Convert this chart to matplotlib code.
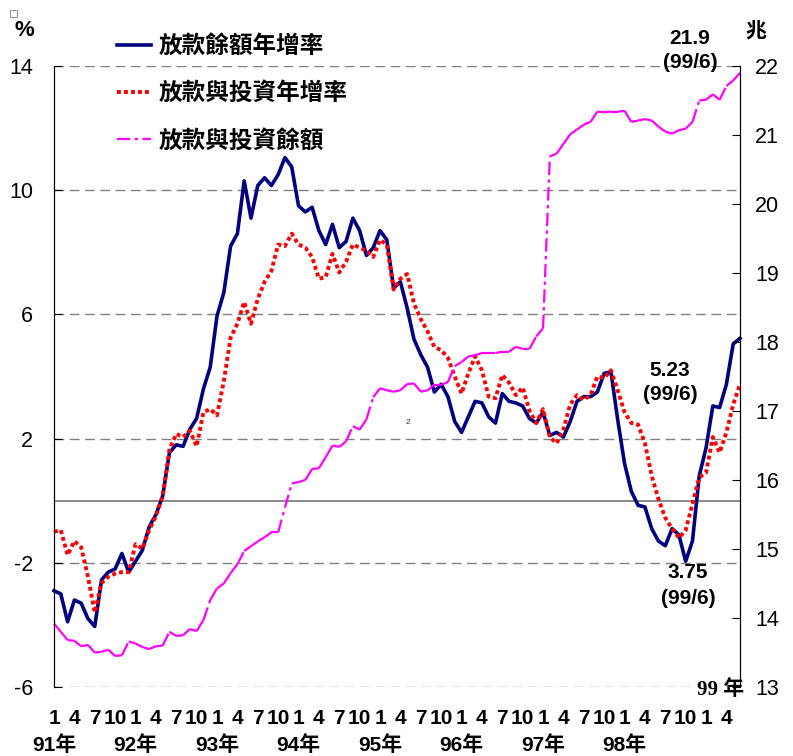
import matplotlib.pyplot as plt
from matplotlib.lines import Line2D
from matplotlib.patches import Rectangle
from matplotlib.font_manager import FontProperties

plt.rcParams['font.family'] = ['Liberation Sans', 'Noto Sans CJK TC']

# 資料: 91年1月 ~ 99年6月 (月資料)
years = ['91年', '92年', '93年', '94年', '95年', '96年', '97年', '98年']
month_labels = ['1', '4', '7', '10'] * 8 + ['1', '4']

# 放款餘額年增率 (%)
loan_growth = [
    -2.9, -3.0, -3.9, -3.2, -3.3, -3.8, -4.05, -2.55, -2.3, -2.2, -1.7, -2.3,
    -1.95, -1.6, -0.85, -0.45, 0.15, 1.55, 1.8, 1.75, 2.3, 2.65, 3.6, 4.3,
    5.95, 6.7, 8.2, 8.6, 10.3, 9.1, 10.15, 10.4, 10.15, 10.5, 11.05, 10.75,
    9.5, 9.3, 9.45, 8.7, 8.25, 8.9, 8.15, 8.35, 9.1, 8.7, 7.9, 8.15,
    8.7, 8.4, 6.85, 7.05, 6.2, 5.2, 4.7, 4.3, 3.5, 3.75, 3.35, 2.55,
    2.2, 2.7, 3.2, 3.15, 2.7, 2.5, 3.45, 3.2, 3.15, 3.05, 2.65, 2.5,
    2.85, 2.1, 2.2, 2.05, 2.55, 3.2, 3.35, 3.35, 3.5, 4.1, 4.15, 2.6,
    1.2, 0.3, -0.15, -0.2, -0.9, -1.3, -1.45, -0.9, -1.1, -1.95, -1.3, 0.8,
    1.7, 3.05, 3.0, 3.75, 5.05, 5.23,
]

# 放款與投資年增率 (%)
loan_inv_growth = [
    -1.0, -0.95, -1.75, -1.3, -1.5, -2.45, -3.6, -2.65, -2.45, -2.35, -2.3, -2.3,
    -1.4, -1.55, -0.95, -0.5, 0.15, 1.65, 2.15, 2.05, 2.25, 1.75, 2.85, 2.95,
    2.75, 3.85, 5.25, 5.7, 6.4, 5.7, 6.5, 7.05, 7.4, 8.25, 8.2, 8.6,
    8.25, 8.15, 7.85, 7.15, 7.2, 7.95, 7.35, 7.7, 8.25, 8.15, 8.05, 7.85,
    8.4, 8.25, 6.8, 7.15, 7.3, 6.35, 5.85, 5.45, 4.95, 4.85, 4.6, 4.0,
    3.45, 4.1, 4.65, 4.2, 3.35, 3.3, 4.05, 3.8, 3.4, 3.65, 2.9, 2.5,
    2.95, 2.05, 1.85, 2.3, 3.1, 3.4, 3.25, 3.4, 4.0, 3.95, 4.2, 3.55,
    2.85, 2.5, 2.45, 1.85, 0.8, 0.05, -0.55, -0.9, -1.2, -0.95, -0.1, 0.75,
    0.9, 2.05, 1.55, 2.2, 3.1, 3.75,
]

# 放款與投資餘額 (兆元)
loan_inv_balance = [
    13.92, 13.8, 13.68, 13.67, 13.59, 13.61, 13.5, 13.51, 13.54, 13.45, 13.46, 13.66,
    13.63, 13.58, 13.55, 13.59, 13.6, 13.8, 13.74, 13.75, 13.84, 13.81, 13.97, 14.26,
    14.43, 14.5, 14.65, 14.78, 14.97, 15.04, 15.11, 15.17, 15.24, 15.24, 15.6, 15.95,
    15.97, 16.0, 16.16, 16.17, 16.33, 16.5, 16.48, 16.56, 16.78, 16.73, 16.88, 17.2,
    17.33, 17.3, 17.28, 17.3, 17.39, 17.4, 17.28, 17.3, 17.38, 17.38, 17.42, 17.65,
    17.71, 17.79, 17.81, 17.84, 17.84, 17.84, 17.86, 17.86, 17.93, 17.9, 17.9, 18.08,
    18.2, 20.69, 20.73, 20.87, 21.01, 21.08, 21.15, 21.19, 21.34, 21.33, 21.34, 21.34,
    21.35, 21.19, 21.21, 21.23, 21.21, 21.12, 21.05, 21.02, 21.07, 21.09, 21.19, 21.5,
    21.51, 21.59, 21.51, 21.71, 21.79, 21.9,
]

legend_labels = ['放款餘額年增率', '放款與投資年增率', '放款與投資餘額']
left_ticks = [-6, -2, 2, 6, 10, 14]
right_ticks = list(range(13, 23))

months = list(range(len(loan_growth)))

W, H = 793, 756
fig = plt.figure(figsize=(W / 100, H / 100), dpi=100)
ax = fig.add_axes([54 / W, 1 - 687 / H, (740 - 54) / W, (687 - 66) / H])
ax2 = ax.twinx()

blue = '#000080'
red = '#FF0000'
pink = '#FF00FF'
magenta_ls = (0, (6, 2, 1.5, 2))
red_ls = (0, (1, 0.8))

# 格線
for v in left_ticks:
    ax.axhline(v, color='#808080', lw=1, ls=(0, (7, 4)), zorder=0)
ax.axhline(0, color='#808080', lw=1.3, zorder=0)

ax.plot(months, loan_growth, color=blue, lw=2.6, zorder=3, clip_on=False)
ax.plot(months, loan_inv_growth, color=red, lw=2.8, ls=red_ls,
        dash_capstyle='butt', zorder=4, clip_on=False)

# 餘額線: 每段各自起算虛線樣式 (像 Excel)
for i in range(len(months) - 1):
    ax2.plot(months[i:i + 2], loan_inv_balance[i:i + 2], color=pink, lw=1.6,
             ls=magenta_ls, dash_capstyle='butt', clip_on=False)

ax.set_xlim(0, len(months) - 1)
ax.set_ylim(-6, 14)
ax2.set_ylim(13, 22)

ax.set_yticks(left_ticks)
ax.set_yticklabels([str(v) for v in left_ticks], fontsize=15.5)
ax2.set_yticks(right_ticks)
ax2.set_yticklabels([str(v) for v in right_ticks], fontsize=15.5)
ax.tick_params(axis='y', direction='in', length=6, pad=15)
ax2.tick_params(axis='y', direction='in', length=6, pad=11)

ax.set_xticks(months[::3])
ax.set_xticklabels(month_labels, fontsize=15, fontweight='bold')
ax.tick_params(axis='x', length=0, pad=16)

for k, yr in enumerate(years):
    ax.text(months[k * 12], -0.0934, yr, transform=ax.get_xaxis_transform(),
            ha='center', va='center', fontsize=15, fontweight='bold')

for a in (ax, ax2):
    a.spines['top'].set_visible(False)
    a.spines['bottom'].set_visible(False)
    a.spines['left'].set_color('black')
    a.spines['right'].set_color('black')

# 圖例
handles = [
    Line2D([], [], color=blue, lw=2.6),
    Line2D([], [], color=red, lw=2.8, ls=red_ls, dash_capstyle='butt'),
    Line2D([], [], color=pink, lw=1.6, ls=magenta_ls, dash_capstyle='butt'),
]
leg_font = FontProperties(family=['Noto Sans CJK TC'], weight='bold', size=17)
ax2.legend(handles, legend_labels, loc='upper left', bbox_to_anchor=(117 / W, 1 - 34 / H),
           bbox_transform=fig.transFigure, frameon=False, prop=leg_font,
           handlelength=1.45, handletextpad=0.3, labelspacing=0.98,
           borderpad=0, borderaxespad=0)


def ftext(x, y, s, **kw):
    fig.text(x / W, 1 - y / H, s, **kw)


ftext(14, 31, '%', fontsize=16, fontweight='bold', va='center')
ftext(745, 32, '兆', fontsize=15, fontweight='bold', va='center')

bold = dict(fontsize=15, fontweight='bold', ha='center', va='center')
ftext(690, 38, '21.9', **bold)
ftext(690, 63, '(99/6)', **bold)
ftext(670, 370, '5.23', **bold)
ftext(670, 394, '(99/6)', **bold)
ftext(688, 573, '3.75', **bold)
ftext(688, 598, '(99/6)', **bold)
ftext(697, 690, '99 年', fontsize=15, fontweight='bold', va='center',
      family=['Liberation Serif', 'Noto Sans CJK TC'])
ftext(408, 423, '2', fontsize=6, ha='center', va='center', color='#333333')

fig.patches.append(Rectangle((10 / W, 1 - 17 / H), 7 / W, 7 / H, transform=fig.transFigure,
                             fill=False, ec='#999999', lw=0.8))

fig.savefig('out.png', dpi=100)
